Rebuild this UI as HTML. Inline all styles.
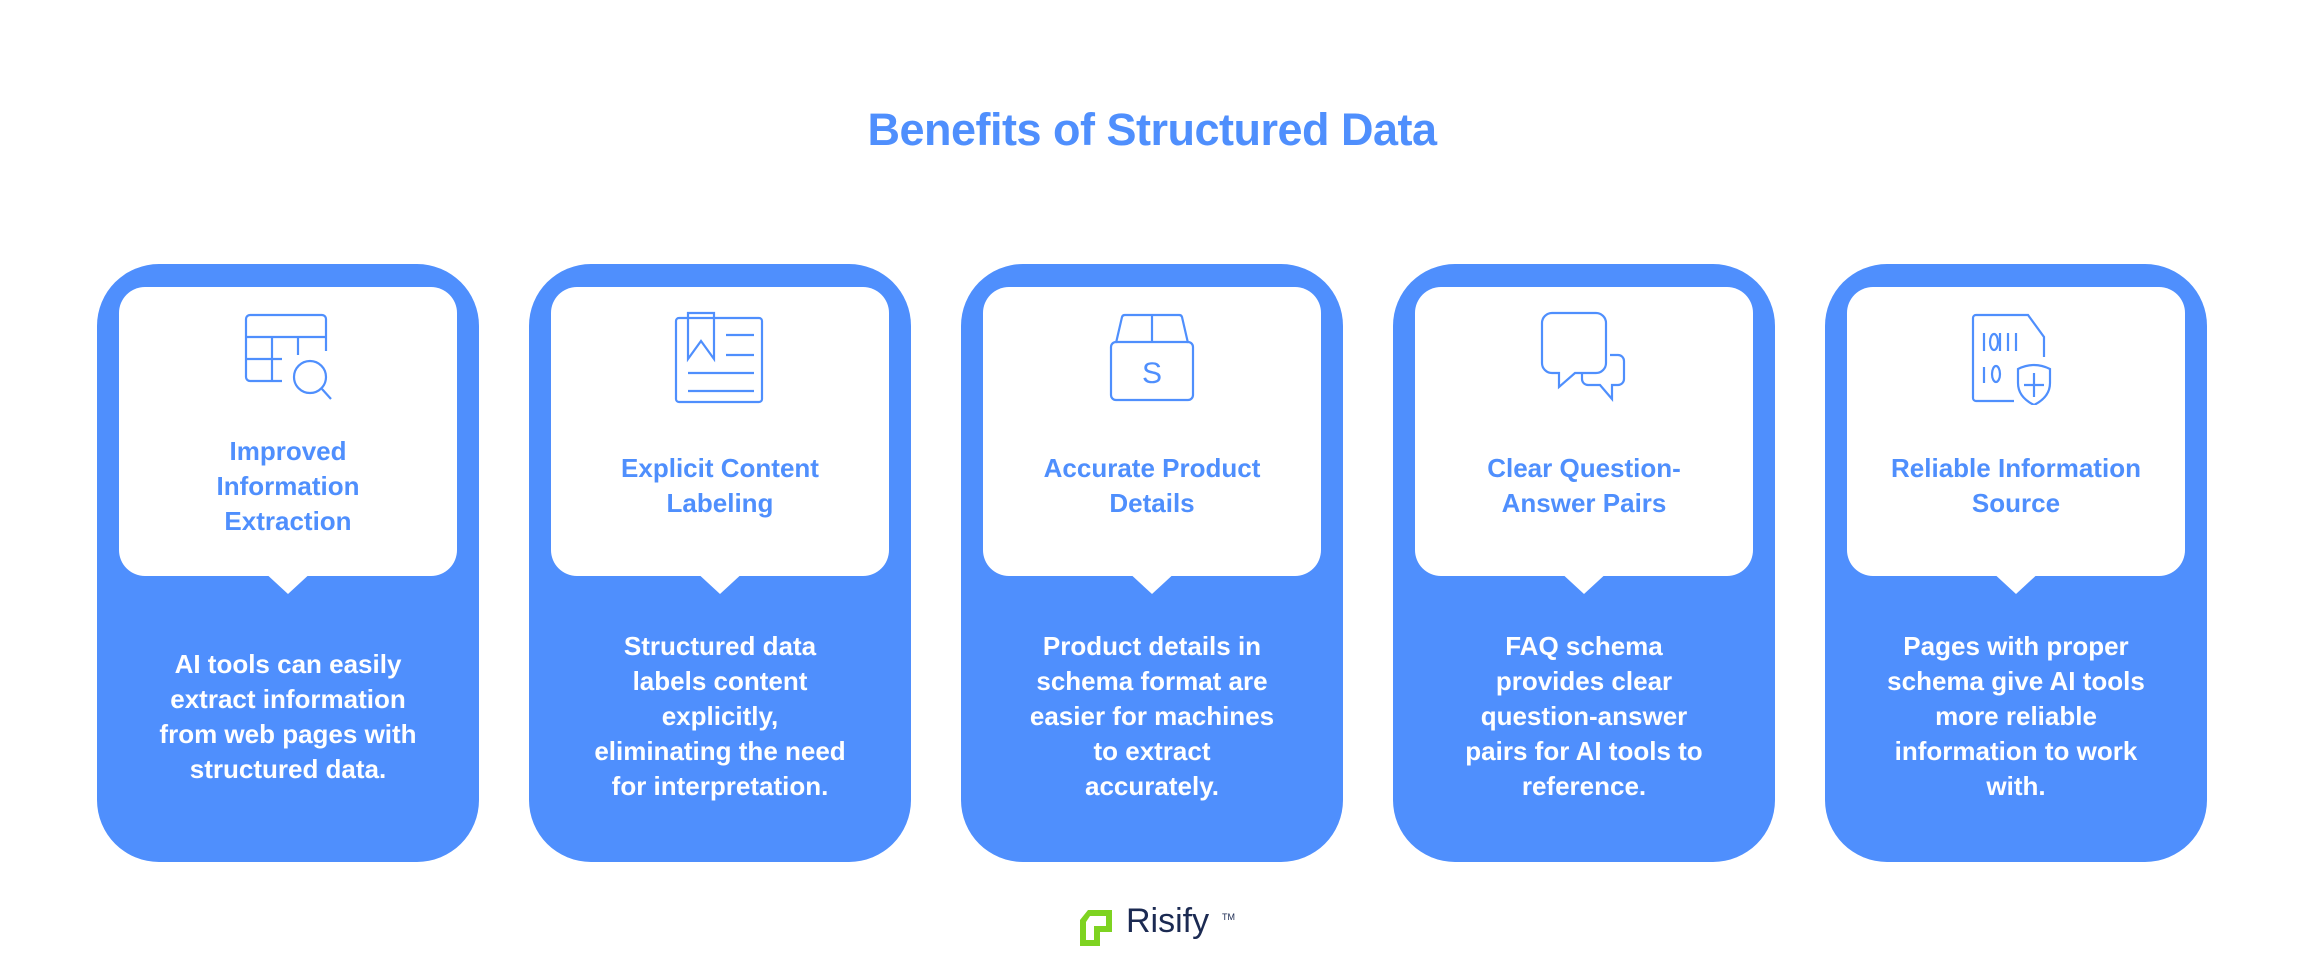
<!DOCTYPE html>
<html><head><meta charset="utf-8"><style>
body{margin:0;width:2304px;height:972px;background:#fff;position:relative;overflow:hidden;font-family:"Liberation Sans",sans-serif}
.title{position:absolute;left:0;width:2304px;top:104px;text-align:center;font-size:45px;font-weight:bold;color:#4f8ffd;letter-spacing:-0.5px}
.card{position:absolute;top:264px;width:382px;height:598px;background:#4f8ffd;border-radius:62px}
.inner{position:absolute;left:22px;top:23px;width:338px;height:289px;background:#fff;border-radius:26px}
.ptr{position:absolute;left:167px;top:306px;width:0;height:0;border-left:26px solid transparent;border-right:26px solid transparent;border-top:24px solid #fff;margin-left:-26px;transform:translateX(24px)}
.icon{position:absolute;left:145px;top:47px;width:92px;height:94px}
.h{position:absolute;left:22px;width:338px;top:150px;height:144px;display:flex;align-items:center;justify-content:center;text-align:center;color:#4f8ffd;font-weight:bold;font-size:26px;line-height:35px}
.b{position:absolute;left:10px;width:362px;top:340px;height:225px;display:flex;align-items:center;justify-content:center;text-align:center;color:#fff;font-weight:bold;font-size:26px;line-height:35px;white-space:nowrap}
svg{stroke:#4f8ffd;fill:none;stroke-width:2.2}
</style></head><body>
<div class="title">Benefits of Structured Data</div>

<div class="card" style="left:97px"><div class="inner"></div><div class="ptr"></div>
<svg class="icon" viewBox="0 0 92 94"><path d="M40 70H8a4 4 0 0 1-4-4V8a4 4 0 0 1 4-4h72a4 4 0 0 1 4 4v32"/><path d="M4 26h80M4 48h36M30 26v44M56 26v18"/><circle cx="68" cy="66" r="16"/><path d="M80 78l9 10"/></svg>
<div class="h">Improved<br>Information<br>Extraction</div>
<div class="b">AI tools can easily<br>extract information<br>from web pages with<br>structured data.</div></div>

<div class="card" style="left:529px"><div class="inner"></div><div class="ptr"></div>
<svg class="icon" viewBox="0 0 92 94"><rect x="2" y="7" width="86" height="84" rx="3"/><path d="M14 2h26v46l-13-18-13 18z"/><path d="M52 24h28M52 44h28M14 62h66M14 80h66"/></svg>
<div class="h">Explicit Content<br>Labeling</div>
<div class="b">Structured data<br>labels content<br>explicitly,<br>eliminating the need<br>for interpretation.</div></div>

<div class="card" style="left:961px"><div class="inner"></div><div class="ptr"></div>
<svg class="icon" viewBox="0 0 92 94"><path d="M10 32L16 6a3 3 0 0 1 3-2h54a3 3 0 0 1 3 2l6 26"/><path d="M46 4v28"/><rect x="5" y="31" width="82" height="58" rx="5"/><text x="46" y="72" text-anchor="middle" font-family="Liberation Sans" font-size="30" fill="#4f8ffd" stroke="none">S</text></svg>
<div class="h">Accurate Product<br>Details</div>
<div class="b">Product details in<br>schema format are<br>easier for machines<br>to extract<br>accurately.</div></div>

<div class="card" style="left:1393px"><div class="inner"></div><div class="ptr"></div>
<svg class="icon" viewBox="0 0 92 94"><path d="M14 2h44a10 10 0 0 1 10 10v40a10 10 0 0 1-10 10H37L21 76V62h-7A10 10 0 0 1 4 52V12A10 10 0 0 1 14 2z"/><path d="M72 44h8a6 6 0 0 1 6 6v18a6 6 0 0 1-6 6h-6v14L62 74H50a6 6 0 0 1-6-6v-6"/></svg>
<div class="h">Clear Question-<br>Answer Pairs</div>
<div class="b">FAQ schema<br>provides clear<br>question-answer<br>pairs for AI tools to<br>reference.</div></div>

<div class="card" style="left:1825px"><div class="inner"></div><div class="ptr"></div>
<svg class="icon" viewBox="0 0 92 94"><path d="M44 90H6a3 3 0 0 1-3-3V7a3 3 0 0 1 3-3h52l16 22v20"/><path d="M14 22v18M30 22v18M38 22v18M46 22v18M14 56v16"/><ellipse cx="24" cy="31" rx="4" ry="8"/><ellipse cx="26" cy="63" rx="4" ry="8"/><path d="M48 58q16-8 32 0v14q0 14-16 22q-16-8-16-22z"/><path d="M64 62v24M54 74h20"/></svg>
<div class="h">Reliable Information<br>Source</div>
<div class="b">Pages with proper<br>schema give AI tools<br>more reliable<br>information to work<br>with.</div></div>

<svg style="position:absolute;left:1078px;top:908px" width="38" height="40" viewBox="0 0 38 40"><path d="M10 2h24v22H22v14H2V12z" fill="#7ed321" stroke="none"/><path d="M12 8h16v10H16v14H8V14z" fill="#fff" stroke="none"/></svg>
<div style="position:absolute;left:1126px;top:902px;font-size:34px;color:#1b2a52">Risify</div>
<div style="position:absolute;left:1222px;top:912px;font-size:9px;color:#1b2a52">TM</div>
</body></html>
